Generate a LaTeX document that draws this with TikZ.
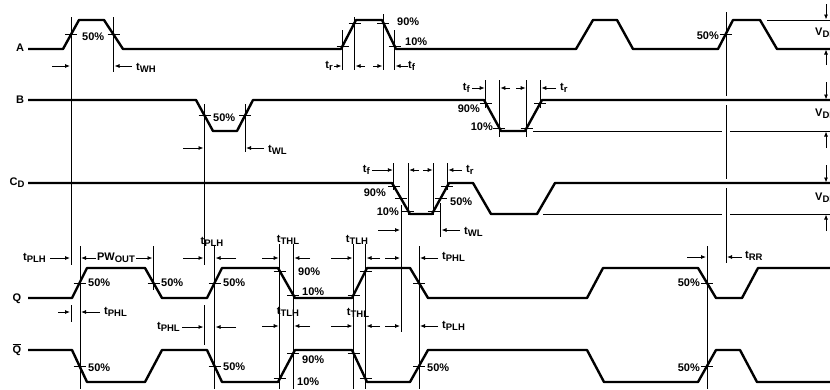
\documentclass[tikz,border=0pt]{standalone}
\usepackage{fontspec}
\setmainfont{Liberation Sans}
\usetikzlibrary{arrows.meta}
\newcommand{\lbl}{\fontsize{11}{13}\selectfont\bfseries}
\newcommand{\tsb}[1]{t\raisebox{-0.35ex}{\fontsize{9.5}{10}\selectfont #1}}
\newcommand{\vdd}{V\raisebox{-0.3ex}{\fontsize{9.5}{10}\selectfont DD}}
\begin{document}
\begin{tikzpicture}[x=1pt,y=-1pt,
  wave/.style={line width=2.4pt,line join=round},
  guide/.style={line width=0.8pt},
  tk/.style={line width=0.8pt},
  arr/.style={line width=0.8pt,-{Latex[length=5pt,width=4pt]}},
  lab/.style={inner sep=0pt,font=\lbl}]
\useasboundingbox (0,0) rectangle (830,389);
\fill[white] (0,0) rectangle (830,389);

% waveforms
\draw[wave] (28,49) -- (63,49) -- (79,20) -- (104,20) -- (123,49) -- (341,49) -- (356,20) -- (382,20) -- (396,49) -- (576,49) -- (593,20) -- (617,20) -- (633,49) -- (718,49) -- (733,20) -- (760,20) -- (777,49) -- (830,49);
\draw[wave] (28,100) -- (196,100) -- (213,131) -- (237,131) -- (253,100) -- (484,100) -- (501,131) -- (525,131) -- (542,100) -- (830,100);
\draw[wave] (28,183) -- (392,183) -- (410,214) -- (432,214) -- (449,183) -- (473,183) -- (491,214) -- (537,214) -- (555,183) -- (830,183);
\draw[wave] (28,298) -- (72,298) -- (87,268) -- (145,268) -- (162,298) -- (207,298) -- (222,268) -- (278,268) -- (295,298) -- (352,298) -- (367,268) -- (410,268) -- (428,298) -- (587,298) -- (603,268) -- (698,268) -- (716,298) -- (742,298) -- (758,268) -- (830,268);
\draw[wave] (28,350) -- (72,350) -- (87,382) -- (145,382) -- (162,350) -- (207,350) -- (222,382) -- (278,382) -- (295,350) -- (352,350) -- (367,382) -- (410,382) -- (428,350) -- (587,350) -- (604,382) -- (698,382) -- (716,350) -- (740,350) -- (757,382) -- (830,382);

% reference lines
\draw[guide] (767,20) -- (830,20);
\draw[guide] (533,131) -- (722,131) (730,131) -- (830,131);
\draw[guide] (543,214) -- (722,214) (730,214) -- (830,214);

% ticks
\foreach \x/\y in {71/34.5,113.5/34.5,342.5/46.1,354.5/22.9,383.4/22.9,394.6/46.1,725.5/34.5,
  204.5/115.5,245/115.5,485.7/103.1,499.3/127.9,526.7/127.9,540.3/103.1,
  393.8/186.1,401/198.5,408.2/210.9,433.7/210.9,440.5/198.5,447.3/186.1,
  79.5/283,153.5/283,214.5/283,279.7/271,293.3/295,353.5/295,365.5/271,419/283,707/283,
  79.5/366,214.5/366,279.7/378.8,293.3/353.2,353.5/353.2,365.5/378.8,419/366,707/366}
  \draw[tk] (\x-6,\y) -- (\x+6,\y);

% guide lines
\foreach \x/\a/\b in {71/17/265,71/305/322,113.5/17/72,342.5/30/70,354.5/17/70,383.4/14/70,394.6/30/70,
  204.5/104/265,204.5/305/345,245/104/152,
  485.7/80/108,499.3/80/137,526.7/80/137,540.3/80/108,
  393.8/163/190,408.2/163/215,433.7/163/215,447.3/163/190,401/205/332,440.5/203/237,
  80/246/389,153.5/246/290,214.5/246/389,279.7/244/389,293.3/244/389,353.5/244/389,365.5/244/389,
  419/246/389,707/246/389,726/12/96,726/105/179,726/188/263}
  \draw[guide] (\x,\a) -- (\x,\b);

% arrows
\foreach \a/\b/\y in {52/70/66,132/114.5/66,334/341.5/66,365/355.5/66,373/382.4/66,408/395.6/66,
  183/203.5/148,264/246/148,472/484.7/88,510/500.3/88,516/525.7/88,556/541.3/88,
  372/392.8/170,419/409.2/170,423/432.7/170,462/448.3/170,378/400/230,460/441.5/230,
  50/70/258,96/81/258,136/152.5/258,183/203.5/258,236/215.5/258,262/278.7/258,310/294.3/258,
  331/352.5/258,380/366.5/258,385/400/258,438/420/258,687/706/257,742/727/257,
  58/70/312,100/81/312,182/203.5/327,236/215.5/327,262/278.7/326,310/294.3/326,
  331/352.5/326,380/366.5/326,385/400/326,438/420/326}
  \draw[arr] (\a,\y) -- (\b,\y);

% VDD arrows
\draw[arr] (826,4) -- (826,19.5);
\draw[arr] (826,65) -- (826,49.5);
\draw[arr] (826,82) -- (826,99.5);
\draw[arr] (826,148) -- (826,131.5);
\draw[arr] (826,165) -- (826,182.5);
\draw[arr] (826,231) -- (826,214.5);
\node[lab,anchor=west] (v1) at (815,33) {\vdd};
\node[lab,anchor=west] (v2) at (815,114) {\vdd};
\node[lab,anchor=west] (v3) at (815,198) {\vdd};

% signal names
\node[lab] (nA) at (20,48) {A};
\node[lab] (nB) at (20,100) {B};
\node[lab] (nC) at (17,183) {C\raisebox{-0.35ex}{\fontsize{9.5}{10}\selectfont D}};
\node[lab] (nQ) at (17,299) {Q};
\node[lab] (nQb) at (17,350) {$\overline{\hbox{Q}}$};

% percent labels
\node[lab,anchor=west] (p1) at (82,37) {50\%};
\node[lab,anchor=west] (p2) at (397,22) {90\%};
\node[lab,anchor=west] (p3) at (405,42) {10\%};
\node[lab,anchor=east] (p4) at (719,36) {50\%};
\node[lab,anchor=west] (p5) at (213,118) {50\%};
\node[lab,anchor=east] (p6) at (480,109) {90\%};
\node[lab,anchor=east] (p7) at (493,127) {10\%};
\node[lab,anchor=east] (p8) at (386,193) {90\%};
\node[lab,anchor=east] (p9) at (399,212) {10\%};
\node[lab,anchor=west] (p10) at (450,202) {50\%};
\node[lab,anchor=west] (p11) at (88,283) {50\%};
\node[lab,anchor=west] (p12) at (161,283) {50\%};
\node[lab,anchor=west] (p13) at (223,283) {50\%};
\node[lab,anchor=west] (p14) at (298,272) {90\%};
\node[lab,anchor=west] (p15) at (302,292) {10\%};
\node[lab,anchor=east] (p16) at (700,283) {50\%};
\node[lab,anchor=west] (p17) at (88,368) {50\%};
\node[lab,anchor=west] (p18) at (223,367) {50\%};
\node[lab,anchor=west] (p19) at (302,360) {90\%};
\node[lab,anchor=west] (p20) at (297,382) {10\%};
\node[lab,anchor=west] (p21) at (427,368) {50\%};
\node[lab,anchor=east] (p22) at (700,368) {50\%};

% timing labels
\node[lab,anchor=west] (t1) at (136,68) {\tsb{WH}};
\node[lab,anchor=east] (t2) at (333,66) {\tsb{r}};
\node[lab,anchor=west] (t3) at (408,66) {\tsb{f}};
\node[lab,anchor=west] (t4) at (268,150) {\tsb{WL}};
\node[lab,anchor=east] (t5) at (470,88) {\tsb{f}};
\node[lab,anchor=west] (t6) at (560,88) {\tsb{r}};
\node[lab,anchor=east] (t7) at (370,170) {\tsb{f}};
\node[lab,anchor=west] (t8) at (466,170) {\tsb{r}};
\node[lab,anchor=west] (t9) at (464,232) {\tsb{WL}};
\node[lab,anchor=east] (t10) at (46,258) {\tsb{PLH}};
\node[lab] (t11) at (116,258) {PW\raisebox{-0.35ex}{\fontsize{9.5}{10}\selectfont OUT}};
\node[lab] (t12) at (212,242) {\tsb{PLH}};
\node[lab] (t13) at (288,240) {\tsb{THL}};
\node[lab] (t14) at (357,240) {\tsb{TLH}};
\node[lab,anchor=west] (t15) at (442,257) {\tsb{PHL}};
\node[lab,anchor=west] (t16) at (745,256) {\tsb{RR}};
\node[lab,anchor=west] (t17) at (104,312) {\tsb{PHL}};
\node[lab,anchor=east] (t18) at (180,327) {\tsb{PHL}};
\node[lab] (t19) at (288,312) {\tsb{TLH}};
\node[lab] (t20) at (358,313) {\tsb{THL}};
\node[lab,anchor=west] (t21) at (442,326) {\tsb{PLH}};
\end{tikzpicture}
\end{document}
